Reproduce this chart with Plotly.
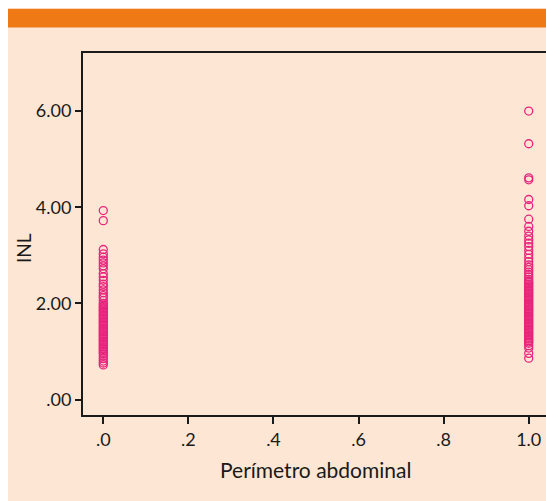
import plotly.graph_objects as go

# Perímetro abdominal group 0
pa0_inl = [3.93, 3.72, 3.12, 3.03, 2.96, 2.90, 2.84, 2.78, 2.72, 2.62, 2.55, 2.48,
           2.40, 2.35, 2.28, 2.22, 2.16, 2.12, 2.06, 2.00, 1.97, 1.94, 1.91, 1.88,
           1.85, 1.82, 1.79, 1.76, 1.73, 1.70, 1.67, 1.64, 1.61, 1.58, 1.55, 1.52,
           1.49, 1.46, 1.43, 1.40, 1.37, 1.34, 1.31, 1.28, 1.25, 1.22, 1.19, 1.16,
           1.13, 1.10, 1.07, 1.04, 1.01, 0.98, 0.95, 0.90, 0.85, 0.80, 0.76, 0.72]
# Perímetro abdominal group 1
pa1_inl = [6.00, 5.32, 4.61, 4.57, 4.16, 4.03, 3.75, 3.60, 3.50, 3.40, 3.32, 3.25,
           3.18, 3.10, 3.02, 2.94, 2.87, 2.80, 2.75, 2.70, 2.65, 2.60, 2.55, 2.50,
           2.46, 2.43, 2.40, 2.37, 2.34, 2.31, 2.28, 2.25, 2.22, 2.19, 2.16, 2.13,
           2.10, 2.07, 2.04, 2.01, 1.98, 1.95, 1.92, 1.89, 1.86, 1.83, 1.80, 1.77,
           1.74, 1.71, 1.68, 1.65, 1.62, 1.59, 1.56, 1.53, 1.50, 1.47, 1.44, 1.41,
           1.38, 1.35, 1.32, 1.29, 1.26, 1.23, 1.20, 1.17, 1.12, 1.07, 0.96, 0.86]

x_tickvals = [0, 0.2, 0.4, 0.6, 0.8, 1.0]
x_ticktext = [".0", ".2", ".4", ".6", ".8", "1.0"]
y_tickvals = [0, 2, 4, 6]
y_ticktext = [".00", "2.00", "4.00", "6.00"]

x_title = "Perímetro abdominal"
y_title = "INL"

peach = "#fde6d4"
orange = "#ef7a15"
pink = "#e8247c"
ink = "#1a1a1a"
font = "Lato, 'Open Sans', sans-serif"

xs = [0] * len(pa0_inl) + [1] * len(pa1_inl)
ys = pa0_inl + pa1_inl

fig = go.Figure()
fig.add_trace(go.Scatter(
    x=xs, y=ys, mode="markers",
    marker=dict(symbol="circle-open", size=8, color=pink, line=dict(width=1.3, color=pink)),
    showlegend=False, hoverinfo="skip",
))

# figure is slightly wider than the window so the plot frame runs off the right edge
W, H = 560, 501
ml, mr, mt, mb = 83, 0, 53, 86
pw, ph = W - ml - mr, H - mt - mb
x_lo = -0.0477
x_per_px = 1.0883 / 463
x_hi = x_lo + pw * x_per_px

def px2x(px):
    return (px - ml) / pw

def py2y(py):
    return 1 - (py - mt) / ph

fig.update_layout(
    width=W, height=H,
    margin=dict(l=ml, r=mr, t=mt, b=mb, pad=0),
    paper_bgcolor=peach, plot_bgcolor=peach,
    font=dict(family=font, size=18, color=ink),
    xaxis=dict(range=[x_lo, x_hi], tickvals=x_tickvals, ticktext=x_ticktext,
               showgrid=False, zeroline=False, showline=True, linecolor=ink, linewidth=2,
               mirror=True, ticks="outside", ticklen=7, tickwidth=2, tickcolor=ink,
               tickfont=dict(size=18)),
    yaxis=dict(range=[-0.322, 7.207], tickvals=y_tickvals, ticktext=y_ticktext,
               showgrid=False, zeroline=False, showline=True, linecolor=ink, linewidth=2,
               ticks="outside", ticklen=6, tickwidth=2, tickcolor=ink,
               tickfont=dict(size=18)),
    shapes=[
        dict(type="rect", xref="paper", yref="paper", x0=px2x(-5), x1=px2x(8),
             y0=py2y(510), y1=py2y(-5), fillcolor="white", line=dict(width=0), layer="above"),
        dict(type="rect", xref="paper", yref="paper", x0=px2x(-5), x1=px2x(565),
             y0=py2y(8.8), y1=py2y(-5), fillcolor="white", line=dict(width=0), layer="above"),
        dict(type="rect", xref="paper", yref="paper", x0=px2x(8), x1=px2x(565),
             y0=py2y(27.6), y1=py2y(8.8), fillcolor=orange, line=dict(width=0), layer="above"),
    ],
    annotations=[
        dict(text=x_title, xref="paper", yref="paper", x=px2x(315), y=py2y(470),
             showarrow=False, xanchor="center", yanchor="middle", font=dict(size=21)),
        dict(text=y_title, xref="paper", yref="paper", x=px2x(23), y=py2y(248),
             showarrow=False, textangle=-90, xanchor="center", yanchor="middle",
             font=dict(size=19)),
    ],
)

fig.write_html(
    "out.html",
    config={"displayModeBar": False},
    post_script="document.body.style.margin='0';document.body.style.overflow='hidden';document.documentElement.style.overflow='hidden';",
)
